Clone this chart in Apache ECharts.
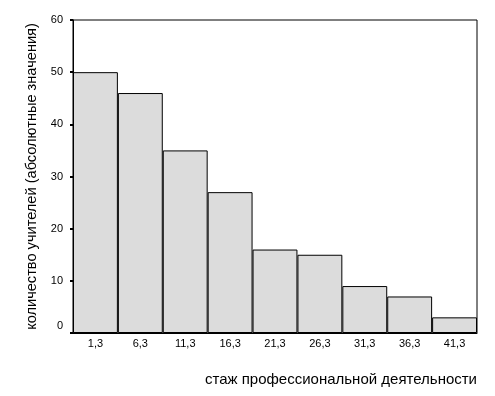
<!DOCTYPE html>
<html>
<head>
<meta charset="utf-8">
<script src="https://cdn.jsdelivr.net/npm/echarts@6/dist/echarts.min.js"></script>
<style>html,body{margin:0;padding:0;background:#fff}#c{width:495px;height:396px}</style>
</head>
<body>
<div id="c"></div>
<script>
var categories = ['1,3','6,3','11,3','16,3','21,3','26,3','31,3','36,3','41,3'];
var counts = [50, 46, 35, 27, 16, 15, 9, 7, 3];
var yTicks = [0, 10, 20, 30, 40, 50, 60];
var xTitle = 'стаж профессиональной деятельности';
var yTitle = 'количество учителей (абсолютные значения)';

var chart = echarts.init(document.getElementById('c'), null, {renderer:'canvas'});
var font = 'Liberation Sans, Arial, sans-serif';
chart.setOption({
  animation: false,
  backgroundColor: '#ffffff',
  grid: {left: 73, top: 20, right: 18, bottom: 63, show: true, borderColor: '#000', borderWidth: 1, backgroundColor: 'transparent'},
  xAxis: {
    type: 'category', data: categories, boundaryGap: true,
    axisLine: {lineStyle: {color: '#000', width: 1}},
    axisTick: {alignWithLabel: true, length: 3, lineStyle: {color: '#000', width: 2}},
    axisLabel: {color: '#000', fontFamily: font, fontSize: 11, margin: 5}
  },
  yAxis: {
    type: 'value', min: yTicks[0], max: yTicks[yTicks.length-1], interval: 10,
    splitLine: {show: false},
    axisLine: {show: true, lineStyle: {color: '#000', width: 1}},
    axisTick: {show: true, length: 3, lineStyle: {color: '#000', width: 2}},
    axisLabel: {color: '#000', fontFamily: font, fontSize: 11, margin: 10,
      formatter: function(v){ return v === 0 ? '{z|0}' : String(v); },
      rich: {z: {fontFamily: font, fontSize: 11, color: '#000', padding: [0,0,14,0]}}},
    name: yTitle, nameLocation: 'middle', nameGap: 27, nameRotate: 90,
    nameTextStyle: {color: '#000', fontFamily: font, fontSize: 14.6}
  },
  graphic: [{
    type: 'text', right: 18, top: 372,
    style: {text: xTitle, fill: '#000', font: '15px ' + font}
  }],
  series: [{
    type: 'bar', data: counts, barWidth: '100%', barCategoryGap: 0,
    itemStyle: {color: '#dcdcdc', borderColor: '#000', borderWidth: 1}
  }]
});
</script>
</body>
</html>
